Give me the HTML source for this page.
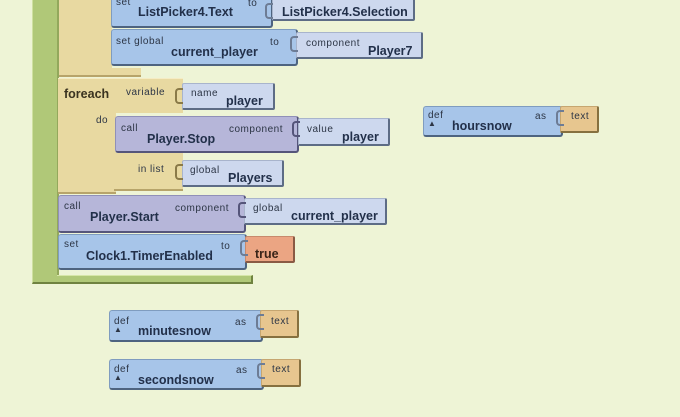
<!DOCTYPE html>
<html><head><meta charset="utf-8"><style>
html,body{margin:0;padding:0;width:680px;height:417px;overflow:hidden;background:#eef4d6;font-family:"Liberation Sans",Arial,sans-serif;}
.a{position:absolute;box-sizing:border-box;}
.blue{background:#a7c5e9;border:1px solid #7f9cbf;border-right:2px solid #4e6480;border-bottom:2px solid #4e6480;border-radius:3px;}
.pur{background:#b6b6d9;border:1px solid #9090b8;border-right:2px solid #55557a;border-bottom:2px solid #55557a;border-radius:3px;}
.lav{background:#cdd8ee;border:1px solid #a8b4cc;border-right:2px solid #5d6c85;border-bottom:2px solid #5d6c85;border-radius:2px;}
.yel{background:#e8d9a1;}
.org{background:#eba583;border:1px solid #c88a6c;border-right:2px solid #8a5a44;border-bottom:2px solid #8a5a44;border-radius:2px;}
.tan{background:#e7c68f;border:1px solid #c6a670;border-right:2px solid #86703f;border-bottom:2px solid #86703f;border-radius:2px;}
.s{position:absolute;font-size:10px;color:#2c3545;letter-spacing:0.5px;white-space:nowrap;}
.t{position:absolute;font-size:12.5px;font-weight:bold;color:#22304a;white-space:nowrap;}
.k{position:absolute;width:6px;height:12px;border:2px solid #6d7c95;border-right:none;border-radius:4px 0 0 4px;}
</style></head><body>
<div class="a" style="left:32px;top:0;width:27px;height:284px;background:#b0c878;border-left:1px solid #cfe0a0;border-right:2px solid #93a85c;border-bottom:2px solid #6f8240;"></div>
<div class="a" style="left:57px;top:275px;width:196px;height:9px;background:#b0c878;border-top:1px solid #d6e6a8;border-bottom:2px solid #6f8240;border-right:2px solid #6f8240;"></div>
<div class="a yel" style="left:59px;top:0;width:53px;height:77px;border-bottom:2px solid #b7a46a;"></div>
<div class="a yel" style="left:110px;top:68px;width:31px;height:9px;border-bottom:2px solid #b7a46a;"></div>
<div class="a blue" style="left:111px;top:-4px;width:162px;height:32px;"></div>
<div class="s" style="left:116px;top:-3px">set</div>
<div class="t" style="left:138px;top:5px">ListPicker4.Text</div>
<div class="s" style="left:248px;top:-2px">to</div>
<div class="a lav" style="left:272px;top:-4px;width:143px;height:25px;"></div>
<div class="t" style="left:282px;top:5px">ListPicker4.Selection</div>
<div class="a blue" style="left:111px;top:29px;width:187px;height:37px;"></div>
<div class="s" style="left:116px;top:36px">set global</div>
<div class="t" style="left:171px;top:45px">current_player</div>
<div class="s" style="left:270px;top:37px">to</div>
<div class="a lav" style="left:296px;top:32px;width:127px;height:27px;"></div>
<div class="s" style="left:306px;top:38px">component</div>
<div class="t" style="left:368px;top:44px">Player7</div>
<div class="a yel" style="left:58px;top:78px;width:125px;height:35px;border-top:1px solid #f5ecc4;"></div>
<div class="a yel" style="left:58px;top:110px;width:58px;height:84px;border-bottom:2px solid #b7a46a;"></div>
<div class="a yel" style="left:114px;top:153px;width:69px;height:38px;border-bottom:2px solid #b7a46a;"></div>
<div class="t" style="left:64px;top:87px;color:#3a3320">foreach</div>
<div class="s" style="left:126px;top:87px">variable</div>
<div class="s" style="left:96px;top:115px">do</div>
<div class="s" style="left:138px;top:164px">in list</div>
<div class="a lav" style="left:182px;top:83px;width:93px;height:27px;"></div>
<div class="s" style="left:191px;top:88px">name</div>
<div class="t" style="left:226px;top:94px">player</div>
<div class="a pur" style="left:115px;top:116px;width:184px;height:37px;"></div>
<div class="s" style="left:121px;top:123px">call</div>
<div class="t" style="left:147px;top:132px">Player.Stop</div>
<div class="s" style="left:229px;top:124px">component</div>
<div class="a lav" style="left:298px;top:118px;width:92px;height:28px;"></div>
<div class="s" style="left:307px;top:124px">value</div>
<div class="t" style="left:342px;top:130px">player</div>
<div class="a lav" style="left:182px;top:160px;width:102px;height:27px;"></div>
<div class="s" style="left:190px;top:165px">global</div>
<div class="t" style="left:228px;top:171px">Players</div>
<div class="a pur" style="left:58px;top:195px;width:188px;height:38px;"></div>
<div class="s" style="left:64px;top:201px">call</div>
<div class="t" style="left:90px;top:210px">Player.Start</div>
<div class="s" style="left:175px;top:203px">component</div>
<div class="a lav" style="left:244px;top:198px;width:143px;height:27px;"></div>
<div class="s" style="left:253px;top:203px">global</div>
<div class="t" style="left:291px;top:209px">current_player</div>
<div class="a blue" style="left:58px;top:234px;width:189px;height:36px;"></div>
<div class="s" style="left:64px;top:239px">set</div>
<div class="t" style="left:86px;top:249px">Clock1.TimerEnabled</div>
<div class="s" style="left:221px;top:241px">to</div>
<div class="a org" style="left:245px;top:236px;width:50px;height:27px;"></div>
<div class="t" style="left:255px;top:247px;color:#3a2418">true</div>
<div class="a blue" style="left:423px;top:106px;width:140px;height:31px;"></div>
<div class="s" style="left:428px;top:110px">def</div>
<div class="s" style="left:428px;top:119px;font-size:8px">▲</div>
<div class="t" style="left:452px;top:119px">hoursnow</div>
<div class="s" style="left:535px;top:111px">as</div>
<div class="a tan" style="left:560px;top:106px;width:39px;height:27px;"></div>
<div class="s" style="left:571px;top:111px">text</div>
<div class="a blue" style="left:109px;top:310px;width:154px;height:32px;"></div>
<div class="s" style="left:114px;top:316px">def</div>
<div class="s" style="left:114px;top:325px;font-size:8px">▲</div>
<div class="t" style="left:138px;top:324px">minutesnow</div>
<div class="s" style="left:235px;top:317px">as</div>
<div class="a tan" style="left:260px;top:310px;width:39px;height:28px;"></div>
<div class="s" style="left:271px;top:316px">text</div>
<div class="a blue" style="left:109px;top:359px;width:155px;height:31px;"></div>
<div class="s" style="left:114px;top:364px">def</div>
<div class="s" style="left:114px;top:373px;font-size:8px">▲</div>
<div class="t" style="left:138px;top:373px">secondsnow</div>
<div class="s" style="left:236px;top:365px">as</div>
<div class="a tan" style="left:261px;top:359px;width:40px;height:28px;"></div>
<div class="s" style="left:272px;top:364px">text</div>
<div class="k" style="left:265px;top:3px"></div>
<div class="k" style="left:290px;top:36px"></div>
<div class="k" style="left:175px;top:88px;border-color:#8a7a48"></div>
<div class="k" style="left:292px;top:121px;border-color:#55557a"></div>
<div class="k" style="left:175px;top:164px;border-color:#8a7a48"></div>
<div class="k" style="left:238px;top:202px;border-color:#55557a"></div>
<div class="k" style="left:240px;top:240px"></div>
<div class="k" style="left:556px;top:110px"></div>
<div class="k" style="left:256px;top:314px"></div>
<div class="k" style="left:257px;top:363px"></div>
</body></html>
